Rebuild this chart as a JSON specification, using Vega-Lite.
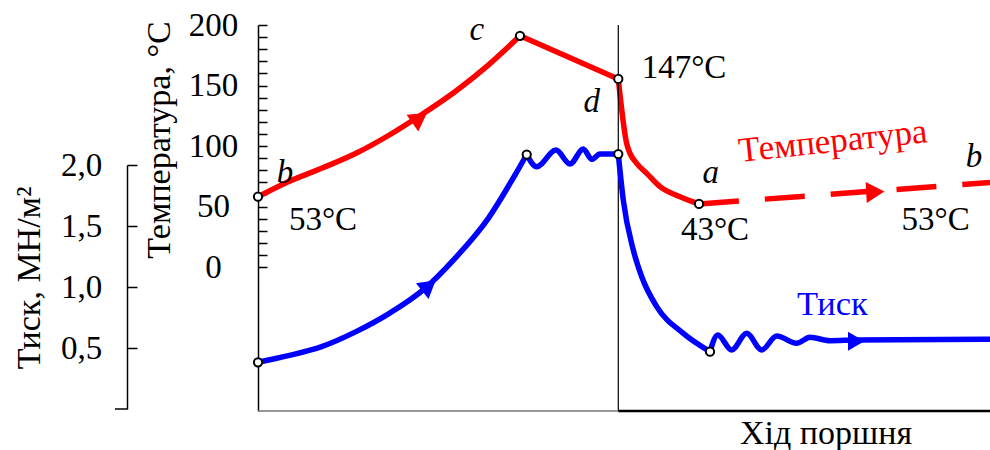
{
  "$schema": "https://vega.github.io/schema/vega-lite/v6.json",
  "width": 732,
  "height": 386,
  "autosize": "none",
  "padding": {"left": 258, "top": 25, "right": 0, "bottom": 39},
  "background": "white",
  "config": {"view": {"stroke": null}, "text": {"font": "Liberation Serif", "fontSize": 33}},
  "resolve": {"scale": {"y": "independent"}},
  "layer": [
    {
      "encoding": {
        "x": {"field": "x", "type": "quantitative", "scale": {"domain": [0, 100], "nice": false, "zero": false}, "axis": null},
        "y": {"field": "t", "type": "quantitative", "scale": {"domain": [-119, 200], "nice": false, "zero": false},
          "axis": {
            "orient": "left",
            "values": [0, 10, 20, 30, 40, 50, 60, 70, 80, 90, 100, 110, 120, 130, 140, 150, 160, 170, 180, 190, 200],
            "labelExpr": "datum.value % 50 === 0 ? datum.label : ''",
            "labelAlign": "center",
            "labelBaseline": "middle",
            "labelFont": "Liberation Serif",
            "labelFontSize": 33,
            "labelColor": "black",
            "labelPadding": 54,
            "labelOverlap": false,
            "labelBound": false,
            "labelFlush": false,
            "tickSize": -9,
            "tickColor": "black",
            "tickWidth": 1.5,
            "domainColor": "black",
            "domainWidth": 1.5,
            "grid": false,
            "title": null
          }}
      },
      "layer": [
        {
          "data": {"values": [
            {"x": 0, "t": 58.1, "seg": "bc"},
            {"x": 4.14, "t": 70.5, "seg": "bc"},
            {"x": 8.70, "t": 81.6, "seg": "bc"},
            {"x": 13.39, "t": 94.0, "seg": "bc"},
            {"x": 17.94, "t": 109.1, "seg": "bc"},
            {"x": 21.90, "t": 124.2, "seg": "bc"},
            {"x": 26.91, "t": 144.9, "seg": "bc"},
            {"x": 31.46, "t": 166.9, "seg": "bc"},
            {"x": 35.79, "t": 191.1, "seg": "bc"},
            {"x": 35.79, "t": 191.1, "seg": "cd"},
            {"x": 49.22, "t": 155.4, "seg": "cd"},
            {"x": 49.22, "t": 155.4, "seg": "da"},
            {"x": 50.36, "t": 102.2, "seg": "da"},
            {"x": 50.82, "t": 93.9, "seg": "da"},
            {"x": 51.73, "t": 85.7, "seg": "da"},
            {"x": 53.10, "t": 77.4, "seg": "da"},
            {"x": 54.92, "t": 66.4, "seg": "da"},
            {"x": 57.65, "t": 58.1, "seg": "da"},
            {"x": 60.25, "t": 52.1, "seg": "da"}
          ]},
          "mark": {"type": "line", "color": "#ff0000", "strokeWidth": 5.5, "interpolate": "monotone"},
          "encoding": {"detail": {"field": "seg"}}
        },
        {
          "data": {"values": [{"x": 60.25, "t": 52.1}, {"x": 100, "t": 69.8}]},
          "mark": {"type": "line", "color": "#ff0000", "strokeWidth": 5.5, "strokeDash": [40, 26], "strokeCap": "butt"}
        },
        {
          "data": {"values": [{"x": 49.22, "t": 200, "t2": -119}]},
          "mark": {"type": "rule", "color": "black", "strokeWidth": 1.2},
          "encoding": {"y2": {"field": "t2"}}
        },
        {
          "data": {"values": [{"x": 0, "x2": 49.22, "t": -119}]},
          "mark": {"type": "rule", "color": "#777777", "strokeWidth": 1.5},
          "encoding": {"x2": {"field": "x2"}}
        },
        {
          "data": {"values": [{"x": 49.22, "x2": 100, "t": -119}]},
          "mark": {"type": "rule", "color": "black", "strokeWidth": 2.5},
          "encoding": {"x2": {"field": "x2"}}
        },
        {
          "data": {"values": [{"x": 22.09, "t": 123.1}]},
          "mark": {"type": "point", "shape": "triangle-right", "filled": true, "color": "#ff0000", "opacity": 1, "size": 420, "angle": -35}
        },
        {
          "data": {"values": [{"x": 84.33, "t": 62.0}]},
          "mark": {"type": "point", "shape": "triangle-right", "filled": true, "color": "#ff0000", "opacity": 1, "size": 440, "angle": -3}
        },
        {
          "data": {"values": [
            {"x": 0, "t": 58.1}, {"x": 35.79, "t": 191.1}, {"x": 49.22, "t": 155.4}, {"x": 60.25, "t": 52.1}
          ]},
          "mark": {"type": "point", "shape": "circle", "filled": true, "fill": "white", "stroke": "black", "strokeWidth": 2, "opacity": 1, "size": 68}
        },
        {
          "data": {"values": [
            {"x": 3.69, "t": 69.67, "label": "b"},
            {"x": 29.88, "t": 187.6, "label": "c"},
            {"x": 45.59, "t": 128.3, "label": "d"},
            {"x": 61.84, "t": 69.67, "label": "a"},
            {"x": 97.81, "t": 82.89, "label": "b"}
          ]},
          "mark": {"type": "text", "font": "Liberation Serif", "fontSize": 33, "fontStyle": "italic", "color": "black", "align": "center", "baseline": "alphabetic"},
          "encoding": {"text": {"field": "label"}}
        },
        {
          "data": {"values": [
            {"x": 8.88, "t": 30.58, "label": "53°C"},
            {"x": 58.2, "t": 155.9, "label": "147°C"},
            {"x": 62.43, "t": 22.31, "label": "43°C"},
            {"x": 92.58, "t": 30.58, "label": "53°C"}
          ]},
          "mark": {"type": "text", "font": "Liberation Serif", "fontSize": 33, "color": "black", "align": "center", "baseline": "alphabetic"},
          "encoding": {"text": {"field": "label"}}
        },
        {
          "data": {"values": [{"x": 77.6, "t": -146.3, "label": "Хід поршня"}]},
          "mark": {"type": "text", "font": "Liberation Serif", "fontSize": 34, "color": "black", "align": "center", "baseline": "alphabetic"},
          "encoding": {"text": {"field": "label"}}
        },
        {
          "data": {"values": [{"x": 78.69, "t": 95.04, "label": "Температура"}]},
          "mark": {"type": "text", "font": "Liberation Serif", "fontSize": 35, "color": "#ff0000", "align": "center", "baseline": "alphabetic", "angle": -6},
          "encoding": {"text": {"field": "label"}}
        },
        {
          "data": {"values": [{"x": 78.46, "t": -39.67, "label": "Тиск"}]},
          "mark": {"type": "text", "font": "Liberation Serif", "fontSize": 34.5, "color": "#0000ff", "align": "center", "baseline": "alphabetic"},
          "encoding": {"text": {"field": "label"}}
        },
        {
          "data": {"values": [
            {"x": -12.02, "t": 104.95, "label": "Температура, °C"},
            {"x": -29.78, "t": -9.09, "label": "Тиск, МН/м²"}
          ]},
          "mark": {"type": "text", "font": "Liberation Serif", "fontSize": 34, "color": "black", "align": "center", "baseline": "alphabetic", "angle": 270},
          "encoding": {"text": {"field": "label"}}
        }
      ]
    },
    {
      "encoding": {
        "x": {"field": "x", "type": "quantitative", "scale": {"domain": [0, 100], "nice": false, "zero": false}, "axis": null},
        "y": {"field": "p", "type": "quantitative", "scale": {"domain": [0, 2], "range": [384, 140], "nice": false, "zero": false},
          "axis": {
            "orient": "left",
            "offset": 131,
            "values": [0.5, 1, 1.5, 2],
            "labelExpr": "replace(format(datum.value, '.1f'), '.', ',')",
            "labelAlign": "center",
            "labelBaseline": "middle",
            "labelFont": "Liberation Serif",
            "labelFontSize": 33,
            "labelColor": "black",
            "labelPadding": 56,
            "labelOverlap": false,
            "labelBound": false,
            "labelFlush": false,
            "tickSize": -10,
            "tickColor": "black",
            "tickWidth": 1.5,
            "domainColor": "black",
            "domainWidth": 1.5,
            "grid": false,
            "title": null
          }}
      },
      "layer": [
        {
          "data": {"values": [
            {"x": 0, "p": 0.383, "seg": "s1"},
            {"x": 4.14, "p": 0.437, "seg": "s1"},
            {"x": 8.70, "p": 0.511, "seg": "s1"},
            {"x": 13.39, "p": 0.634, "seg": "s1"},
            {"x": 17.94, "p": 0.784, "seg": "s1"},
            {"x": 22.81, "p": 0.989, "seg": "s1"},
            {"x": 26.91, "p": 1.235, "seg": "s1"},
            {"x": 31.46, "p": 1.563, "seg": "s1"},
            {"x": 35.11, "p": 1.918, "seg": "s1"},
            {"x": 36.71, "p": 2.086, "seg": "s1"},
            {"x": 36.71, "p": 2.086, "seg": "s2"},
            {"x": 38.07, "p": 1.986, "seg": "s2"},
            {"x": 40.71, "p": 2.123, "seg": "s2"},
            {"x": 42.62, "p": 2.008, "seg": "s2"},
            {"x": 44.44, "p": 2.131, "seg": "s2"},
            {"x": 45.59, "p": 2.047, "seg": "s2"},
            {"x": 46.72, "p": 2.090, "seg": "s2"},
            {"x": 49.22, "p": 2.090, "seg": "s2"},
            {"x": 49.22, "p": 2.090, "seg": "s3"},
            {"x": 49.90, "p": 1.713, "seg": "s3"},
            {"x": 51.27, "p": 1.303, "seg": "s3"},
            {"x": 52.42, "p": 1.084, "seg": "s3"},
            {"x": 54.47, "p": 0.839, "seg": "s3"},
            {"x": 58.10, "p": 0.620, "seg": "s3"},
            {"x": 61.75, "p": 0.470, "seg": "s3"},
            {"x": 61.75, "p": 0.470, "seg": "s4"},
            {"x": 62.81, "p": 0.607, "seg": "s4"},
            {"x": 64.71, "p": 0.484, "seg": "s4"},
            {"x": 66.76, "p": 0.620, "seg": "s4"},
            {"x": 68.81, "p": 0.484, "seg": "s4"},
            {"x": 70.86, "p": 0.598, "seg": "s4"},
            {"x": 73.59, "p": 0.539, "seg": "s4"},
            {"x": 75.41, "p": 0.588, "seg": "s4"},
            {"x": 78.14, "p": 0.560, "seg": "s4"},
            {"x": 81.72, "p": 0.566, "seg": "s4"},
            {"x": 100, "p": 0.571, "seg": "s4"}
          ]},
          "mark": {"type": "line", "color": "#0000ff", "strokeWidth": 5.5, "interpolate": "monotone"},
          "encoding": {"detail": {"field": "seg"}}
        },
        {
          "data": {"values": [{"x": -19.54, "x2": -17.83, "p": 0}]},
          "mark": {"type": "rule", "color": "black", "strokeWidth": 1.5},
          "encoding": {"x2": {"field": "x2"}}
        },
        {
          "data": {"values": [{"x": 23.36, "p": 1.011}]},
          "mark": {"type": "point", "shape": "triangle-right", "filled": true, "color": "#0000ff", "opacity": 1, "size": 400, "angle": -39}
        },
        {
          "data": {"values": [{"x": 81.72, "p": 0.556}]},
          "mark": {"type": "point", "shape": "triangle-right", "filled": true, "color": "#0000ff", "opacity": 1, "size": 360, "angle": 0}
        },
        {
          "data": {"values": [
            {"x": 0, "p": 0.383}, {"x": 36.71, "p": 2.086}, {"x": 49.22, "p": 2.090}, {"x": 61.75, "p": 0.470}
          ]},
          "mark": {"type": "point", "shape": "circle", "filled": true, "fill": "white", "stroke": "black", "strokeWidth": 2, "opacity": 1, "size": 68}
        }
      ]
    }
  ]
}
